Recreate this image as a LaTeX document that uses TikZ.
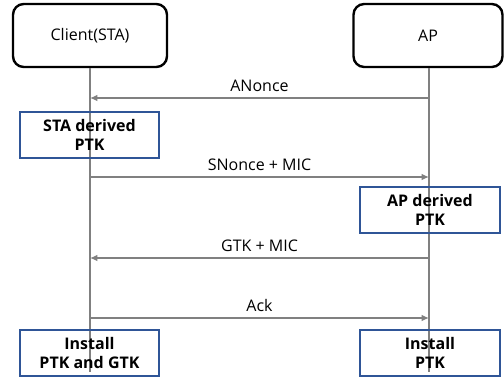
\documentclass[tikz,border=0pt]{standalone}
\usepackage{fontspec}
\setmainfont{Open Sans}
\usetikzlibrary{arrows.meta}
\definecolor{lifegray}{HTML}{808080}
\definecolor{boxblue}{HTML}{2F5597}
\tikzset{
  actor/.style={draw=black, line width=1.8pt, rounded corners=8pt, font=\fontsize{12}{14}\selectfont},
  keybox/.style={draw=boxblue, line width=1.9pt, align=center, inner sep=0pt, font=\bfseries\fontsize{12}{14.3}\selectfont},
  lifeline/.style={draw=lifegray, line width=1.9pt},
  msg/.style={draw=lifegray, line width=1.5pt, -{Latex[length=5.5pt,width=5pt]}},
  msglabel/.style={font=\fontsize{12}{14}\selectfont}
}
\begin{document}
\begin{tikzpicture}[x=0.75pt, y=-0.75pt]
  \useasboundingbox (0,0) rectangle (504,379);
  % participants
  \node[actor, minimum width=154*0.75pt, minimum height=63*0.75pt] (sta) at (90,35.5) {Client(STA)};
  \node[actor, minimum width=149*0.75pt, minimum height=63*0.75pt] (ap) at (428,35.5) {AP};
  % lifeline ends
  \coordinate (staend) at (90,372);
  \coordinate (apend) at (429,372);
  \draw[lifeline] (sta.south) -- (staend);
  \draw[lifeline] (ap.south -| apend) -- (apend);
  % message anchors on the lifelines
  \coordinate (m1a) at (429,98);  \coordinate (m1b) at (90,98);
  \coordinate (m2a) at (90,177);  \coordinate (m2b) at (429,177);
  \coordinate (m3a) at (429,258); \coordinate (m3b) at (90,258);
  \coordinate (m4a) at (90,318);  \coordinate (m4b) at (429,318);
  \draw[msg] (m1a) -- node[msglabel, above=0.5pt] {ANonce} (m1b);
  \draw[msg] (m2a) -- node[msglabel, above=0.5pt] {SNonce + MIC} (m2b);
  \draw[msg] (m3a) -- node[msglabel, above=0.5pt] {GTK + MIC} (m3b);
  \draw[msg] (m4a) -- node[msglabel, above=0.5pt] {Ack} (m4b);
  % key derivation and installation steps
  \node[keybox, minimum width=139*0.75pt, minimum height=46*0.75pt] (stader) at (89.5,135) {STA derived\\PTK};
  \node[keybox, minimum width=140*0.75pt, minimum height=46*0.75pt] (apder) at (430,210) {AP derived\\PTK};
  \node[keybox, minimum width=139*0.75pt, minimum height=46*0.75pt] (stainst) at (89.5,353) {Install\\PTK and GTK};
  \node[keybox, minimum width=140*0.75pt, minimum height=46*0.75pt] (apinst) at (430,353) {Install\\PTK};
\end{tikzpicture}
\end{document}
